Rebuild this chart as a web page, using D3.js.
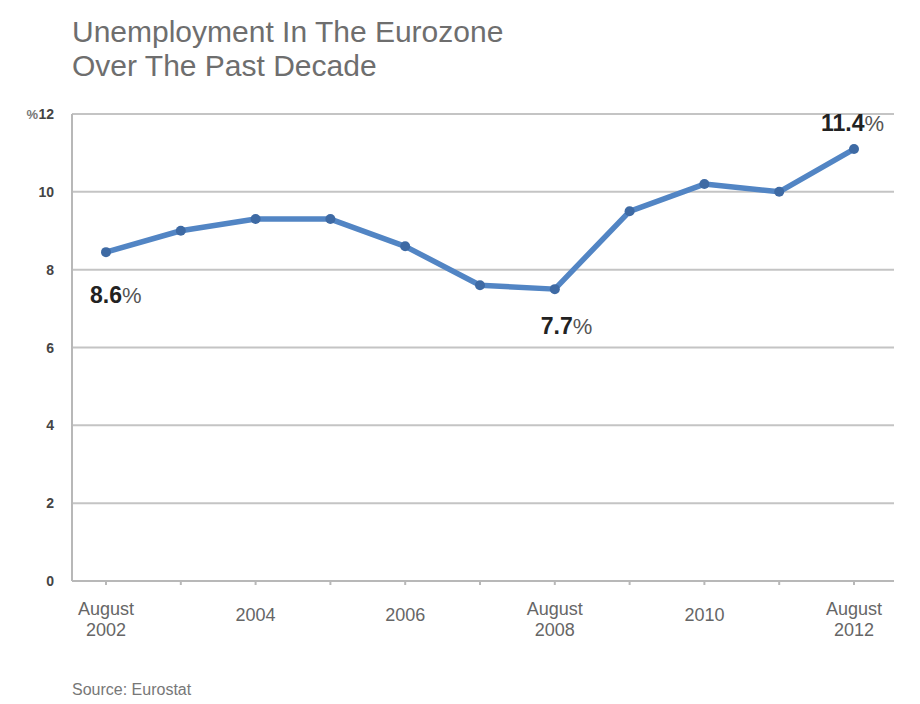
<!DOCTYPE html>
<html>
<head>
    <script src="https://d3js.org/d3.v7.min.js" charset="utf-8"></script>
    <style>
        body { margin: 0; background: #fff; }
        text { font-family: "Liberation Sans", Arial, sans-serif; }
    </style>
</head>
<body>
    <script>
        // data
        var years = [2002, 2003, 2004, 2005, 2006, 2007, 2008, 2009, 2010, 2011, 2012];
        var rates = [8.45, 9.0, 9.3, 9.3, 8.6, 7.6, 7.5, 9.5, 10.2, 10.0, 11.1];
        var yTicks = [0, 2, 4, 6, 8, 10, 12];
        var xLabels = [
            { year: 2002, lines: ["August", "2002"] },
            { year: 2004, lines: ["2004"] },
            { year: 2006, lines: ["2006"] },
            { year: 2008, lines: ["August", "2008"] },
            { year: 2010, lines: ["2010"] },
            { year: 2012, lines: ["August", "2012"] }
        ];
        var callouts = [
            { year: 2002, value: "8.6", dx: -16, dy: 51 },
            { year: 2008, value: "7.7", dx: -14, dy: 45 },
            { year: 2012, value: "11.4", dx: -33, dy: -18 }
        ];

        var svg = d3.select("body")
            .append("svg")
            .attr("width", 920)
            .attr("height", 704);

        var x = d3.scaleLinear().domain([2002, 2012]).range([106, 854]);
        var y = d3.scaleLinear().domain([0, 12]).range([581, 114]);

        // title
        var title = svg.append("text")
            .style("font-size", "30px")
            .style("fill", "#6e6e6e");
        title.append("tspan").attr("x", 72).attr("y", 42).text("Unemployment In The Eurozone");
        title.append("tspan").attr("x", 72).attr("y", 76).text("Over The Past Decade");

        // grid lines
        svg.selectAll(".grid")
            .data(yTicks.filter(function (d) { return d > 0; }))
            .enter().append("line")
            .attr("x1", 72).attr("x2", 894)
            .attr("y1", function (d) { return y(d); })
            .attr("y2", function (d) { return y(d); })
            .style("stroke", "#c4c4c4")
            .style("stroke-width", 2);

        // axes
        svg.append("line")
            .attr("x1", 72).attr("x2", 72)
            .attr("y1", y(12)).attr("y2", y(0))
            .style("stroke", "#b8b8b8").style("stroke-width", 2);
        svg.append("line")
            .attr("x1", 72).attr("x2", 894)
            .attr("y1", y(0)).attr("y2", y(0))
            .style("stroke", "#b8b8b8").style("stroke-width", 2);

        svg.selectAll(".tick")
            .data(years)
            .enter().append("line")
            .attr("x1", function (d) { return x(d); })
            .attr("x2", function (d) { return x(d); })
            .attr("y1", y(0)).attr("y2", y(0) + 4)
            .style("stroke", "#b8b8b8").style("stroke-width", 2);

        // y labels
        svg.selectAll(".ylab")
            .data(yTicks)
            .enter().append("text")
            .attr("x", 54)
            .attr("y", function (d) { return y(d) + 5; })
            .attr("text-anchor", "end")
            .style("font-size", "14px")
            .style("font-weight", "bold")
            .style("fill", "#444")
            .text(function (d) { return d; });
        svg.append("text")
            .attr("x", 38).attr("y", y(12) + 5)
            .attr("text-anchor", "end")
            .style("font-size", "13px")
            .style("font-weight", "bold")
            .style("fill", "#777")
            .text("%");

        // x labels
        var xl = svg.selectAll(".xlab")
            .data(xLabels)
            .enter().append("text")
            .attr("text-anchor", "middle")
            .style("font-size", "18px")
            .style("fill", "#666");
        xl.each(function (d) {
            var t = d3.select(this);
            var y0 = d.lines.length == 2 ? 615 : 621;
            d.lines.forEach(function (s, i) {
                t.append("tspan")
                    .attr("x", x(d.year))
                    .attr("y", y0 + i * 21)
                    .text(s);
            });
        });

        // line
        var pts = years.map(function (d, i) { return [d, rates[i]]; });
        var line = d3.line()
            .x(function (d) { return x(d[0]); })
            .y(function (d) { return y(d[1]); });
        svg.append("path")
            .datum(pts)
            .attr("d", line)
            .style("fill", "none")
            .style("stroke", "#5285c4")
            .style("stroke-width", 5.5)
            .style("stroke-linejoin", "round");
        svg.selectAll(".dot")
            .data(pts)
            .enter().append("circle")
            .attr("cx", function (d) { return x(d[0]); })
            .attr("cy", function (d) { return y(d[1]); })
            .attr("r", 5)
            .style("fill", "#3e6aa4");

        // callouts
        var co = svg.selectAll(".callout")
            .data(callouts)
            .enter().append("text")
            .attr("x", function (d) { return x(d.year) + d.dx; })
            .attr("y", function (d, i) { return y(rates[years.indexOf(d.year)]) + d.dy; })
            .style("fill", "#222");
        co.append("tspan")
            .style("font-size", "23px")
            .style("font-weight", "bold")
            .text(function (d) { return d.value; });
        co.append("tspan")
            .style("font-size", "22px")
            .style("fill", "#555")
            .text("%");

        // source
        svg.append("text")
            .attr("x", 72).attr("y", 695)
            .style("font-size", "16px")
            .style("fill", "#777")
            .text("Source: Eurostat");
    </script>
</body>
</html>
